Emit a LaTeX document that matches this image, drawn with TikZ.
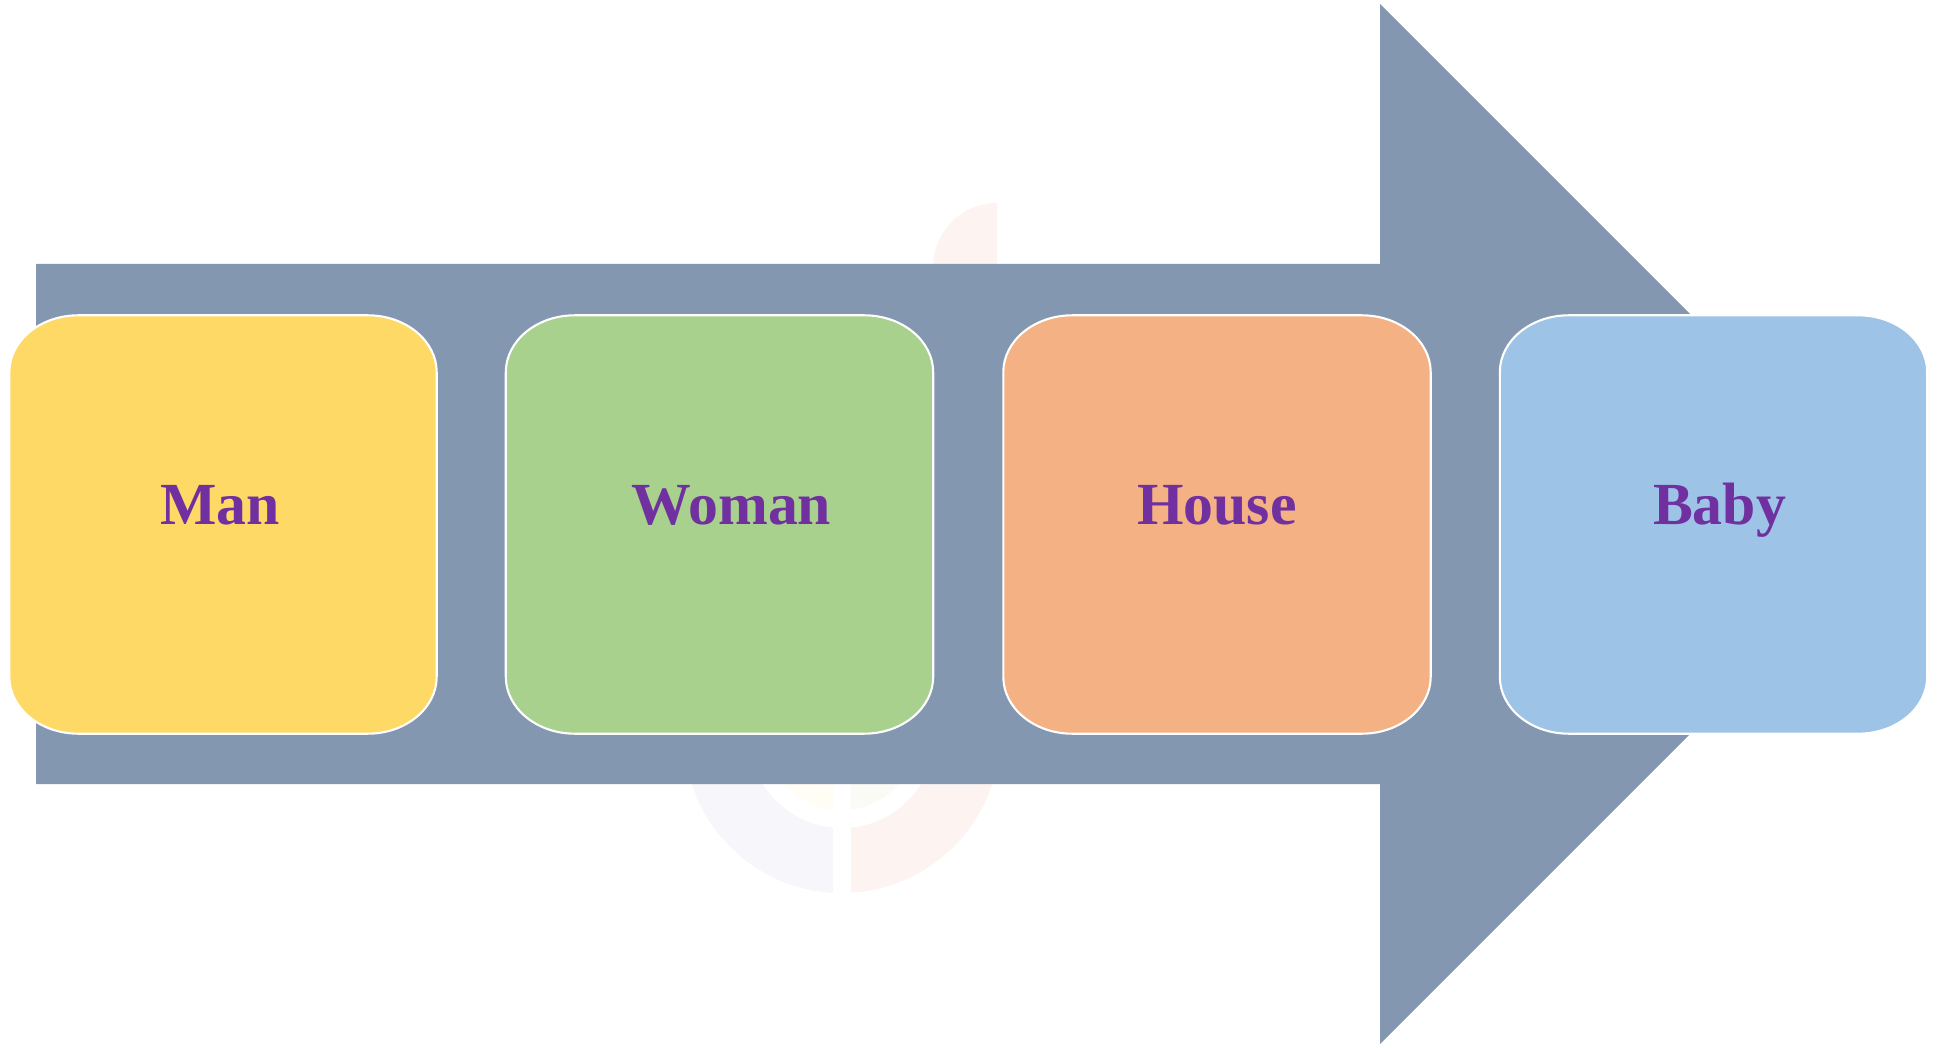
\documentclass[tikz,border=0pt]{standalone}
\usepackage{fontspec}
\setmainfont{Liberation Serif}
\usepackage{tikz}
\definecolor{arrowfill}{HTML}{8497B0}
\definecolor{manfill}{HTML}{FFD966}
\definecolor{womanfill}{HTML}{A9D18E}
\definecolor{housefill}{HTML}{F4B183}
\definecolor{babyfill}{HTML}{9DC3E6}
\definecolor{txtpurple}{HTML}{7030A0}
\definecolor{wmpink}{HTML}{FDF4F2}
\definecolor{wmlav}{HTML}{F7F6FA}
\definecolor{wmgreen}{HTML}{FAFBF5}
\definecolor{wmyellow}{HTML}{FFFDF4}
% box with oval corners round a named node
\newcommand{\stepshape}[2]{\filldraw[draw=white,line width=0.6pt,fill=#2] ([xshift=0.69cm]#1.north west) -- ([xshift=-0.69cm]#1.north east) arc[start angle=90,end angle=0,x radius=0.69cm,y radius=0.57cm] -- ([yshift=0.57cm]#1.south east) arc[start angle=0,end angle=-90,x radius=0.69cm,y radius=0.57cm] -- ([xshift=0.69cm]#1.south west) arc[start angle=270,end angle=180,x radius=0.69cm,y radius=0.57cm] -- ([yshift=-0.57cm]#1.north west) arc[start angle=180,end angle=90,x radius=0.69cm,y radius=0.57cm] -- cycle;}

\begin{document}
\begin{tikzpicture}[stepbox/.style={minimum width=4.26cm,minimum height=4.17cm,inner sep=0pt},
lbl/.style={anchor=base,text=txtpurple,font=\bfseries\fontsize{17}{20}\selectfont}]
\useasboundingbox (0,0) rectangle (19.42,10.47);
% faint logo behind the arrow
\fill[wmpink] (9.97,7.80) -- (9.97,8.44) arc[start angle=90,end angle=180,radius=0.64] -- cycle;
\fill[wmpink] (8.42,3.12) circle (1.58);
\fill[wmlav] (8.42,3.12) -- (6.84,3.12) arc[start angle=180,end angle=270,radius=1.58] -- cycle;
\fill[white] (8.42,3.12) circle (0.93);
\fill[wmgreen] (8.42,3.12) circle (0.75);
\fill[wmyellow] (8.42,3.12) -- (7.67,3.12) arc[start angle=180,end angle=270,radius=0.75] -- cycle;
\fill[white] (8.33,1.40) rectangle (8.51,3.20);
% big arrow
\fill[arrowfill] (0.36,2.63) -- (0.36,7.83) -- (13.80,7.83) -- (13.80,10.43) -- (19.00,5.23) -- (13.80,0.03) -- (13.80,2.63) -- cycle;
% the four steps
\node[stepbox] (man) at (2.23,5.225) {};
\node[stepbox] (woman) at (7.195,5.225) {};
\node[stepbox] (house) at (12.17,5.225) {};
\node[stepbox] (baby) at (17.135,5.225) {};
\stepshape{man}{manfill}
\stepshape{woman}{womanfill}
\stepshape{house}{housefill}
\stepshape{baby}{babyfill}
\node[lbl] (mantxt) at ([xshift=-0.03cm]man.center) {Man};
\node[lbl] (womantxt) at ([xshift=0.12cm]woman.center) {Woman};
\node[lbl] (housetxt) at (house.center) {House};
\node[lbl] (babytxt) at ([xshift=0.06cm]baby.center) {Baby};
\end{tikzpicture}
\end{document}
